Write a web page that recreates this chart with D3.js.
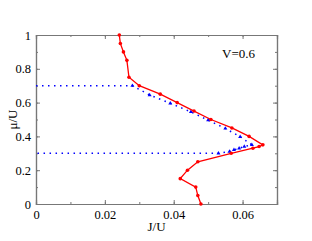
<!DOCTYPE html>
<html>
<head>
<meta charset="utf-8">
<script src="https://cdn.jsdelivr.net/npm/d3@7"></script>
<style>
	body { margin: 0; background: #fff; }
	text { font-family: "Liberation Serif", "DejaVu Serif", serif; }
</style>
</head>
<body>
<div id="chart"></div>
<script>
// red curve (J/U, mu/U)
const redJ = [0.0242, 0.0245, 0.0254, 0.0264, 0.0270, 0.0300, 0.0361, 0.0410, 0.0459, 0.0508, 0.0569, 0.0619, 0.0659, 0.0648, 0.0630, 0.0567, 0.0470, 0.0440, 0.0419, 0.0464, 0.0470, 0.0479];
const redMu = [1.00, 0.95, 0.90, 0.85, 0.75, 0.70, 0.65, 0.60, 0.55, 0.50, 0.45, 0.40, 0.35, 0.34, 0.33, 0.30, 0.25, 0.20, 0.15, 0.10, 0.05, 0.00];

// blue dotted curve
const blueJ = [0, 0.0280, 0.0330, 0.0390, 0.0450, 0.0500, 0.0550, 0.0593, 0.0627, 0.0605, 0.0590, 0.0575, 0.0562, 0.0530, 0];
const blueMu = [0.70, 0.70, 0.645, 0.596, 0.545, 0.496, 0.447, 0.398, 0.35, 0.34, 0.33, 0.32, 0.31, 0.30, 0.30];

const xTicks = [0, 0.02, 0.04, 0.06];
const yTicks = [0, 0.2, 0.4, 0.6, 0.8, 1];

const width = 312;
const height = 241;
const margin = {top: 35, right: 35, bottom: 37, left: 36};

const svg = d3.select("#chart")
	.append("svg")
	.attr("width", width)
	.attr("height", height);

const x = d3.scaleLinear().domain([0, 0.07]).range([margin.left, width - margin.right]);
const y = d3.scaleLinear().domain([0, 1]).range([height - margin.bottom, margin.top]);

// ticks on all four sides, pointing in
const axisColor = "#777";
const fmt = (d) => d == 0 ? "0" : d3.format("")(d);

function drawAxis(axis, tx, ty, labels) {
	const g = svg.append("g")
		.attr("transform", "translate(" + tx + "," + ty + ")")
		.call(axis);
	g.select(".domain").attr("stroke", axisColor).attr("stroke-width", 1.2);
	g.selectAll(".tick line").attr("stroke", axisColor);
	g.selectAll("text")
		.attr("fill", "#000")
		.style("font-size", "12.5px");
	if (!labels) g.selectAll("text").remove();
	return g;
}

const minorX = d3.range(0, 0.0701, 0.01);
const minorY = d3.range(0, 1.001, 0.1);

drawAxis(d3.axisBottom(x).tickValues(minorX).tickSize(-2).tickFormat(""), 0, y(0), false);
drawAxis(d3.axisTop(x).tickValues(minorX).tickSize(-2).tickFormat(""), 0, y(1), false);
drawAxis(d3.axisLeft(y).tickValues(minorY).tickSize(-2).tickFormat(""), x(0), 0, false);
drawAxis(d3.axisRight(y).tickValues(minorY).tickSize(-2).tickFormat(""), x(0.07), 0, false);

drawAxis(d3.axisBottom(x).tickValues(xTicks).tickSize(-4).tickPadding(6).tickFormat(fmt), 0, y(0), true);
drawAxis(d3.axisTop(x).tickValues(xTicks).tickSize(-4).tickFormat(""), 0, y(1), false);
drawAxis(d3.axisLeft(y).tickValues(yTicks).tickSize(-4).tickPadding(5).tickFormat(fmt), x(0), 0, true);
drawAxis(d3.axisRight(y).tickValues(yTicks).tickSize(-4).tickFormat(""), x(0.07), 0, false);

// axis titles
svg.append("text")
	.attr("x", (x(0) + x(0.07)) / 2)
	.attr("y", 231)
	.attr("text-anchor", "middle")
	.style("font-size", "13px")
	.text("J/U");

svg.append("text")
	.attr("transform", "translate(17," + (y(0.5)) + ") rotate(-90)")
	.attr("text-anchor", "middle")
	.style("font-size", "13px")
	.text("μ/U");

svg.append("text")
	.attr("x", 222)
	.attr("y", 58)
	.style("font-size", "13px")
	.text("V=0.6");

// blue dotted curve with triangles
const bluePts = blueJ.map((d, i) => [d, blueMu[i]]);
const line = d3.line().x((d) => x(d[0])).y((d) => y(d[1]));

svg.append("path")
	.attr("d", line(bluePts))
	.attr("fill", "none")
	.attr("stroke", "#0000ff")
	.attr("stroke-width", 1.5)
	.attr("stroke-dasharray", "1.5,4.5");

svg.append("g")
	.selectAll("path")
	.data(bluePts.slice(1, -1))
	.enter()
	.append("path")
	.attr("d", d3.symbol().type(d3.symbolTriangle).size(7))
	.attr("transform", (d) => "translate(" + x(d[0]) + "," + y(d[1]) + ")")
	.attr("fill", "#0000ff");

// red curve with circles
const redPts = redJ.map((d, i) => [d, redMu[i]]);

svg.append("path")
	.attr("d", line(redPts))
	.attr("fill", "none")
	.attr("stroke", "#ff0000")
	.attr("stroke-width", 1.3);

svg.append("g")
	.selectAll("circle")
	.data(redPts)
	.enter()
	.append("circle")
	.attr("cx", (d) => x(d[0]))
	.attr("cy", (d) => y(d[1]))
	.attr("r", 1.8)
	.attr("fill", "#ff0000");
</script>
</body>
</html>
